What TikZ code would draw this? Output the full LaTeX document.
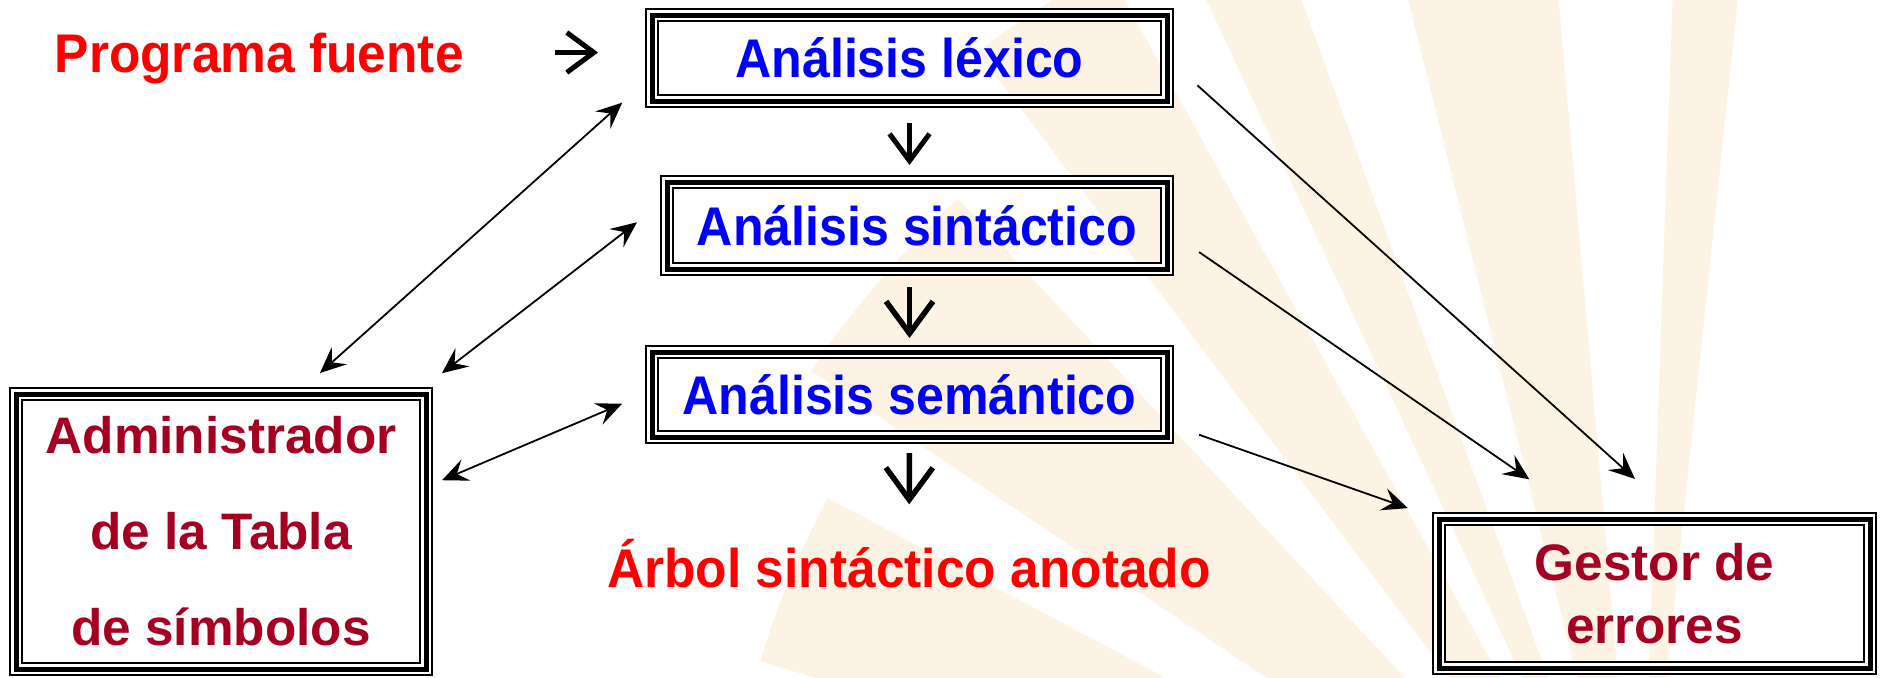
\documentclass[tikz,border=0pt]{standalone}
\usepackage{fontspec}
\setmainfont{Liberation Sans}
\newfontfamily\fuenteazul[FakeStretch=0.92]{Liberation Sans}
\newfontfamily\fuenteroja[FakeStretch=0.945]{Liberation Sans}
\usepackage{tikz}
\usetikzlibrary{arrows.meta, calc}
\definecolor{granate}{RGB}{165, 0, 33}
\definecolor{rojo}{RGB}{255, 0, 0}
\definecolor{azul}{RGB}{0, 0, 255}
\definecolor{crema}{RGB}{252, 243, 228}

\begin{document}
\begin{tikzpicture}[
    marco/.style={draw, line width=0.05cm, inner sep=0pt, outer sep=0pt,
      preaction={draw, line width=0.017cm, double=white, double distance=0.1cm}},
    fase/.style={marco, text=azul, font=\fuenteazul\bfseries\fontsize{15.5}{18}\selectfont,
      text height=0.39cm, text depth=0pt},
    modulo/.style={marco, text=granate, align=center},
    rotulo/.style={text=rojo, inner sep=0pt, font=\fuenteroja\bfseries\fontsize{15.5}{18}\selectfont,
      text height=0.39cm, text depth=0pt},
    corta/.style={line width=0.055cm, -{Straight Barb[length=0.32cm, width=0.47cm]}},
    corta chica/.style={line width=0.05cm, -{Straight Barb[length=0.27cm, width=0.40cm]}},
    conector/.style={line width=0.018cm, -{Stealth[length=0.26cm, width=0.23cm, inset=0.1cm]}},
    doble/.style={conector, {Stealth[length=0.26cm, width=0.23cm, inset=0.1cm]}-{Stealth[length=0.26cm, width=0.23cm, inset=0.1cm]}}
  ]

  \fill[white] (0, 0) rectangle (18.8, -6.77);
  \useasboundingbox (0, 0) rectangle (18.8, -6.77);

  % rayos del fondo
  \begin{scope}
    \clip (0, 0) rectangle (18.8, -6.77);
    \coordinate (sol) at (16.4, -9.3);
    \foreach \a/\b/\r in {84/88/11, 95/104/11, 110/115/11, 119/127/11, 133/146/10, 152/163/9.2} {
      \fill[crema] (sol) -- ($(sol)+(\a:\r)$) arc[start angle=\a, end angle=\b, radius=\r cm] -- cycle;
    }
  \end{scope}

  % fases del analisis
  \node[fase, minimum width=5.15cm, minimum height=0.86cm] (lex) at (9.095, -0.58) {Análisis léxico};
  \node[fase, minimum width=5.00cm, minimum height=0.87cm] (sin) at (9.17, -2.255) {Análisis sintáctico};
  \node[fase, minimum width=5.15cm, minimum height=0.85cm] (sem) at (9.095, -3.945) {Análisis semántico};

  \node[modulo, minimum width=4.10cm, minimum height=2.75cm,
    font=\bfseries\fontsize{14.6}{27.3}\selectfont] (adm) at (2.21, -5.315)
    {Administrador\\de la Tabla\\de símbolos};
  \node[modulo, minimum width=4.31cm, minimum height=1.49cm,
    font=\bfseries\fontsize{14.6}{17.9}\selectfont] (ges) at (16.545, -5.935)
    {Gestor de\\errores};

  \node[rotulo, anchor=base west] (prog) at (0.54, -0.72) {Programa fuente};
  \node[rotulo, anchor=base] (arbol) at (9.09, -5.87) {Árbol sintáctico anotado};

  % flechas cortas
  \draw[corta chica, shorten <=0.91cm, shorten >=0.54cm] (prog.east) -- (prog.east -| lex.west);
  \draw[corta chica, shorten <=0.22cm, shorten >=0.17cm] (lex.south) -- (lex.south |- sin.north);
  \draw[corta, shorten <=0.18cm, shorten >=0.14cm] (sem.north |- sin.south) -- (sem.north);
  \draw[corta, shorten <=0.16cm, shorten >=0.43cm] (sem.south) -- (arbol.north);

  % tabla de simbolos
  \draw[doble, shorten <=0.315cm, shorten >=0.40cm] ([xshift=0.755cm]adm.north) -- ([yshift=-0.18cm]lex.west);
  \draw[doble, shorten <=0.34cm, shorten >=0.38cm] ([xshift=-0.11cm]adm.north east) -- ([yshift=0.265cm]sin.west);
  \draw[doble, shorten <=0.174cm, shorten >=0.325cm] ([yshift=0.445cm]adm.east) -- ([yshift=0.035cm]sem.west);

  % errores
  \draw[conector, shorten <=0.41cm, shorten >=0.60cm] (lex.east) -- ([xshift=0.25cm]ges.north);
  \draw[conector, shorten <=0.39cm, shorten >=0.70cm] ([yshift=-0.045cm]sin.east) -- ([xshift=-0.675cm]ges.north);
  \draw[conector, shorten <=0.34cm, shorten >=0.33cm] ([yshift=-0.29cm]sem.east) -- (ges.north west);

\end{tikzpicture}
\end{document}
